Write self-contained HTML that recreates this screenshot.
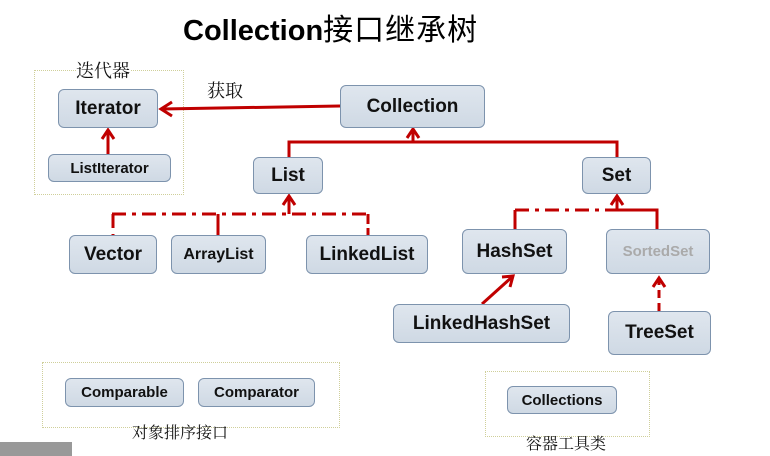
<!DOCTYPE html>
<html><head><meta charset="utf-8"><style>
body{margin:0;width:770px;height:456px;background:#fff;position:relative;overflow:hidden;font-family:"Liberation Sans","Noto Sans CJK SC",sans-serif}
.b{position:absolute;box-sizing:border-box;background:linear-gradient(#dfe6ee,#cfd9e4);border:1px solid #7d93ad;border-radius:6px;display:flex;align-items:center;justify-content:center;font-weight:bold;color:#111}
.d{position:absolute;box-sizing:border-box;border:1px dotted #cfcf9a}
.t{position:absolute;font-family:"Noto Serif CJK SC","WenQuanYi Zen Hei",serif;color:#111;white-space:nowrap}
</style></head><body>
<div style="position:absolute;left:183px;top:5px;font-size:29px;font-weight:bold;white-space:nowrap">Collection<span style="font-family:'Noto Sans CJK SC',sans-serif;font-weight:normal;font-size:30px;letter-spacing:1px">接口继承树</span></div>
<div class="d" style="left:34px;top:70px;width:150px;height:125px"></div>
<div class="t" style="left:76px;top:57px;font-size:18px;background:#fff">迭代器</div>
<div class="t" style="left:207px;top:77px;font-size:18px">获取</div>
<div class="d" style="left:42px;top:362px;width:298px;height:66px"></div>
<div class="t" style="left:132px;top:420px;font-size:16px">对象排序接口</div>
<div class="d" style="left:485px;top:371px;width:165px;height:66px"></div>
<div class="t" style="left:526px;top:431px;font-size:16px">容器工具类</div>
<div style="position:absolute;left:0;top:442px;width:72px;height:14px;background:#999"></div>
<svg width="770" height="456" style="position:absolute;left:0;top:0">
<g stroke="#c00000" stroke-width="3" fill="none">
<line x1="340" y1="106" x2="162" y2="109"/><polyline points="172,102 161,109 172,116"/>
<line x1="108" y1="154" x2="108" y2="131"/><polyline points="102,139 108,130 114,139"/>
<polyline points="289,157 289,142 617,142 617,157"/>
<line x1="413" y1="142" x2="413" y2="130"/><polyline points="407,138 413,129 419,138"/>
<line x1="112" y1="214" x2="368" y2="214" stroke-dasharray="14,6,4,6"/>
<line x1="113" y1="214" x2="113" y2="235" stroke-dasharray="14,6,4,6"/>
<line x1="218" y1="214" x2="218" y2="235"/>
<line x1="368" y1="214" x2="368" y2="235" stroke-dasharray="10,4"/>
<line x1="289" y1="214" x2="289" y2="197"/><polyline points="283,205 289,196 295,205"/>
<line x1="515" y1="210" x2="617" y2="210" stroke-dasharray="14,6,4,6"/>
<line x1="515" y1="210" x2="515" y2="229"/>
<polyline points="657,229 657,210 617,210 617,197"/><polyline points="611,205 617,196 623,205"/>
<line x1="482" y1="304" x2="512" y2="277"/><polyline points="502,277 513,276 510,287"/>
<line x1="659" y1="311" x2="659" y2="279" stroke-dasharray="8,5"/><polyline points="653,287 659,278 665,287"/>
</g></svg>
<div class="b" style="left:58px;top:89px;width:100px;height:39px;font-size:19px">Iterator</div>
<div class="b" style="left:48px;top:154px;width:123px;height:28px;font-size:15px">ListIterator</div>
<div class="b" style="left:340px;top:85px;width:145px;height:43px;font-size:19px">Collection</div>
<div class="b" style="left:253px;top:157px;width:70px;height:37px;font-size:19px">List</div>
<div class="b" style="left:582px;top:157px;width:69px;height:37px;font-size:19px">Set</div>
<div class="b" style="left:69px;top:235px;width:88px;height:39px;font-size:19px">Vector</div>
<div class="b" style="left:171px;top:235px;width:95px;height:39px;font-size:16px">ArrayList</div>
<div class="b" style="left:306px;top:235px;width:122px;height:39px;font-size:19px">LinkedList</div>
<div class="b" style="left:462px;top:229px;width:105px;height:45px;font-size:19px">HashSet</div>
<div class="b" style="left:606px;top:229px;width:104px;height:45px;font-size:15px;color:#aaa">SortedSet</div>
<div class="b" style="left:393px;top:304px;width:177px;height:39px;font-size:19px">LinkedHashSet</div>
<div class="b" style="left:608px;top:311px;width:103px;height:44px;font-size:19px">TreeSet</div>
<div class="b" style="left:65px;top:378px;width:119px;height:29px;font-size:15px">Comparable</div>
<div class="b" style="left:198px;top:378px;width:117px;height:29px;font-size:15px">Comparator</div>
<div class="b" style="left:507px;top:386px;width:110px;height:28px;font-size:15px">Collections</div>
</body></html>
